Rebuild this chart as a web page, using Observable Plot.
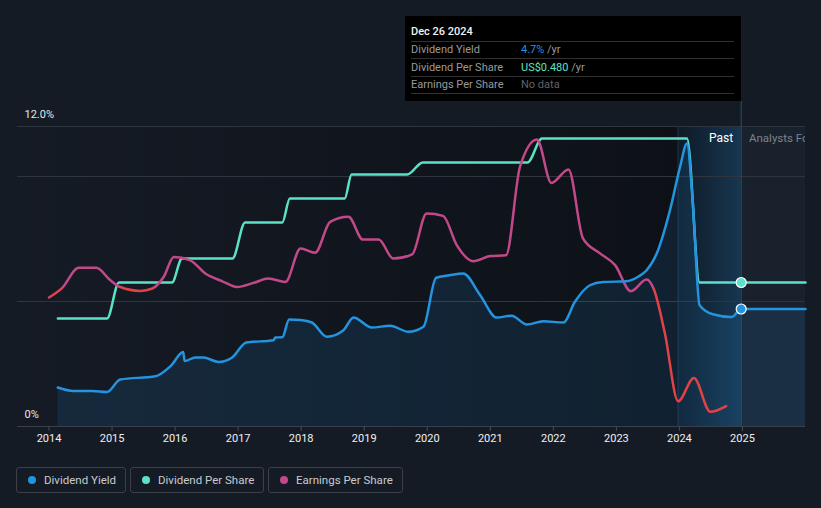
<!DOCTYPE html>
<html><head><meta charset="utf-8">
<script src="https://cdn.jsdelivr.net/npm/d3@7"></script>
<script src="https://cdn.jsdelivr.net/npm/@observablehq/plot@0.6"></script>
<style>
body{margin:0;background:#151b25;font-family:Roboto,"Noto Sans",sans-serif;}
#wrap{position:relative;width:821px;height:508px;background:#151b25;overflow:hidden;}
#chart{position:absolute;left:0;top:0;}
#tip{position:absolute;left:405px;top:16px;width:336px;height:85px;background:#000;}
#tip .r{position:absolute;left:6px;width:323px;border-bottom:1px solid #303030;font-size:11px;color:#9a9a9a;white-space:nowrap;}
#tip .r .v{position:absolute;left:110px;}
#tip .d{color:#f2f2f2;font-weight:500;}
#fc{position:absolute;left:749px;top:131px;width:56px;overflow:hidden;white-space:nowrap;font-size:11.5px;color:#7d838b;}
.lg{position:absolute;top:467px;height:24px;border:1px solid #3a3f48;border-radius:3px;box-sizing:content-box;font-size:11.5px;color:#c9cbd0;line-height:24px;white-space:nowrap;}
.lg i{position:absolute;left:11px;top:8px;width:8px;height:8px;border-radius:50%;}
.lg span{position:absolute;left:27px;}
</style></head><body>
<div id="wrap">
  <div id="chart"></div>
  <div id="tip">
    <div class="r d" style="top:6px;height:19px;line-height:19px;">Dec 26 2024</div>
    <div class="r" style="top:26px;height:16px;line-height:16px;">Dividend Yield<span class="v"><span style="color:#2394df">4.7%</span> /yr</span></div>
    <div class="r" style="top:43px;height:17px;line-height:17px;">Dividend Per Share<span class="v"><span style="color:#5ce1c9">US$0.480</span> /yr</span></div>
    <div class="r" style="top:61px;height:16px;line-height:16px;">Earnings Per Share<span class="v" style="color:#5f6368">No data</span></div>
  </div>
  <div id="fc">Analysts Forecasts</div>
  <div class="lg" style="left:16px;width:108px;"><i style="background:#2394df"></i><span>Dividend Yield</span></div>
  <div class="lg" style="left:130px;width:132px;"><i style="background:#5ce1c9"></i><span>Dividend Per Share</span></div>
  <div class="lg" style="left:268px;width:133px;"><i style="background:#c2488a"></i><span>Earnings Per Share</span></div>
</div>
<script>
// ---- data ----
const yieldYears = [2014.14, 2014.39, 2014.68, 2014.92, 2015.13, 2015.69, 2015.93, 2016.13, 2016.15, 2016.32, 2016.45, 2016.69, 2016.90, 2017.13, 2017.56, 2017.59, 2017.70, 2017.81, 2017.99, 2018.17, 2018.41, 2018.67, 2018.83, 2019.12, 2019.41, 2019.70, 2019.94, 2020.14, 2020.35, 2020.57, 2020.84, 2021.10, 2021.34, 2021.58, 2021.84, 2022.16, 2022.34, 2022.58, 2022.79, 2023.16, 2023.35, 2023.48, 2023.64, 2023.85, 2024.01, 2024.12, 2024.21, 2024.32, 2024.53, 2024.83, 2024.98, 2026.0];
const yieldValues = [1.56, 1.42, 1.42, 1.38, 1.88, 2.01, 2.42, 2.98, 2.62, 2.76, 2.76, 2.58, 2.75, 3.36, 3.45, 3.56, 3.57, 4.28, 4.26, 4.16, 3.59, 3.85, 4.36, 3.96, 4.03, 3.79, 3.99, 5.95, 6.05, 6.12, 5.25, 4.36, 4.43, 4.08, 4.21, 4.16, 4.98, 5.65, 5.78, 5.81, 6.0, 6.25, 6.92, 8.65, 10.38, 11.32, 9.05, 4.85, 4.49, 4.38, 4.7, 4.7];

const dpsYears = [2014.14, 2014.92, 2015.11, 2015.95, 2016.11, 2016.91, 2017.11, 2017.70, 2017.82, 2018.69, 2018.80, 2019.68, 2019.93, 2021.59, 2021.82, 2024.12, 2024.32, 2026.0];
const dpsValues = [0.36, 0.36, 0.48, 0.48, 0.56, 0.56, 0.68, 0.68, 0.76, 0.76, 0.84, 0.84, 0.88, 0.88, 0.96, 0.96, 0.48, 0.48];

const epsYears = [2014.00, 2014.21, 2014.47, 2014.75, 2014.97, 2015.13, 2015.45, 2015.64, 2015.82, 2015.98, 2016.24, 2016.48, 2016.75, 2016.98, 2017.25, 2017.48, 2017.75, 2017.99, 2018.22, 2018.46, 2018.75, 2018.98, 2019.23, 2019.46, 2019.76, 2019.99, 2020.25, 2020.47, 2020.73, 2021.00, 2021.25, 2021.47, 2021.74, 2021.97, 2022.24, 2022.47, 2022.74, 2022.98, 2023.23, 2023.48, 2023.59, 2023.77, 2023.98, 2024.23, 2024.49, 2024.74];
const epsValues = [0.43, 0.462, 0.529, 0.529, 0.488, 0.465, 0.452, 0.46, 0.499, 0.565, 0.554, 0.51, 0.484, 0.465, 0.479, 0.493, 0.482, 0.593, 0.579, 0.682, 0.699, 0.623, 0.623, 0.56, 0.574, 0.71, 0.702, 0.604, 0.551, 0.568, 0.571, 0.865, 0.957, 0.812, 0.857, 0.627, 0.577, 0.538, 0.451, 0.49, 0.46, 0.31, 0.084, 0.162, 0.049, 0.068];
const epsDeclineRanges = [[2014.0, 2014.21], [2015.13, 2015.66], [2023.59, 2026.0]];

const xTicks = [2014, 2015, 2016, 2017, 2018, 2019, 2020, 2021, 2022, 2023, 2024, 2025];
const yLabelTicks = [0, 12];
const yLabels = ["0%", "12.0%"];
const gridValues = [5, 10, 12];
const xDomain = [2013.5, 2026.0];
const yDomain = [0, 12];
const bandStart = 2023.98, nowYear = 2024.98;
const perShareFactor = 12; // per-share US$ -> shared axis units

// ---- build ----
const yieldData = yieldYears.map((x, i) => ({x, y: yieldValues[i]}));
const dpsData = dpsYears.map((x, i) => ({x, y: dpsValues[i] * perShareFactor}));
const epsData = epsYears.map((x, i) => ({x, y: epsValues[i] * perShareFactor}));
const nowDots = [
  {x: nowYear, y: dpsValues[dpsValues.length - 1] * perShareFactor, c: "#5ce1c9"},
  {x: nowYear, y: yieldValues[yieldValues.length - 1], c: "#2394df"}
];

const chart = Plot.plot({
  width: 821, height: 455,
  marginLeft: 17, marginRight: 16, marginTop: 126, marginBottom: 29,
  style: {background: "transparent", color: "#e6e6e6", fontFamily: "Roboto, sans-serif", fontSize: "11px", overflow: "visible"},
  x: {domain: xDomain, label: null},
  y: {domain: yDomain, label: null},
  marks: [
    Plot.rect([0], {x1: xDomain[0], x2: bandStart, y1: yDomain[0], y2: yDomain[1], fill: "url(#pastGrad)"}),
    Plot.rect([0], {x1: bandStart, x2: nowYear, y1: yDomain[0], y2: yDomain[1], fill: "url(#bandGrad)"}),
    Plot.rect([0], {x1: nowYear, x2: xDomain[1], y1: yDomain[0], y2: yDomain[1], fill: "#19212d"}),
    Plot.ruleY(gridValues, {stroke: "#2f353e", strokeWidth: 1}),
    Plot.ruleX([bandStart], {y1: yDomain[0], y2: yDomain[1], stroke: "#1b3246", strokeWidth: 1}),
    Plot.ruleX([nowYear], {y1: yDomain[0], y2: 13, stroke: "#22506f", strokeWidth: 1}),
    Plot.areaY(yieldData, {x: "x", y: "y", fill: "#2394df", fillOpacity: 0.13, curve: "monotone-x"}),
    Plot.ruleY([0], {stroke: "#3a4049", strokeWidth: 1.2}),
    Plot.line(dpsData, {x: "x", y: "y", stroke: "#5ce1c9", strokeWidth: 2.5, curve: "monotone-x"}),
    Plot.line(epsData, {x: "x", y: "y", stroke: "url(#epsGrad)", strokeWidth: 2.5, curve: "monotone-x"}),
    Plot.line(yieldData, {x: "x", y: "y", stroke: "#2394df", strokeWidth: 2.5, curve: "monotone-x"}),
    Plot.dot(nowDots, {x: "x", y: "y", r: 5, fill: "c", stroke: "#ffffff", strokeWidth: 1.2}),
    Plot.text(["Past"], {x: nowYear, y: yDomain[1], dx: -8, dy: 12, textAnchor: "end", fill: "#ffffff", fontSize: 12}),
    Plot.axisX({ticks: xTicks, tickFormat: d3.format("d"), tickSize: 5, tickPadding: 3, stroke: "#454b54", fill: "#f0f0f0", fontSize: 11, label: null}),
    Plot.axisY({ticks: yLabelTicks, tickFormat: (d) => yLabels[yLabelTicks.indexOf(d)], tickSize: 0, tickPadding: 0, textAnchor: "start", dx: 7, dy: -12, fill: "#e6e6e6", fontSize: 11, label: null})
  ]
});
document.getElementById("chart").appendChild(chart);

// gradients
const xs = chart.scale("x");
const svg = d3.select(chart);
const defs = svg.insert("defs", ":first-child");
const pg = defs.append("linearGradient").attr("id", "pastGrad").attr("x1", 0).attr("x2", 1).attr("y1", 0).attr("y2", 0);
pg.append("stop").attr("offset", 0).attr("stop-color", "#080a0e").attr("stop-opacity", 0);
pg.append("stop").attr("offset", 1).attr("stop-color", "#080a0e").attr("stop-opacity", 0.6);
const bg = defs.append("linearGradient").attr("id", "bandGrad").attr("x1", 0).attr("x2", 1).attr("y1", 0).attr("y2", 0);
bg.append("stop").attr("offset", 0).attr("stop-color", "#0f1a26");
bg.append("stop").attr("offset", 1).attr("stop-color", "#173651");
const eg = defs.append("linearGradient").attr("id", "epsGrad").attr("gradientUnits", "userSpaceOnUse")
  .attr("x1", xs.apply(xDomain[0])).attr("x2", xs.apply(xDomain[1])).attr("y1", 0).attr("y2", 0);
const span = xDomain[1] - xDomain[0];
const pink = "#c2488a", red = "#e04247";
epsDeclineRanges.forEach(([a, b]) => {
  const fa = (a - xDomain[0]) / span, fb = (b - xDomain[0]) / span;
  eg.append("stop").attr("offset", fa).attr("stop-color", pink);
  eg.append("stop").attr("offset", fa).attr("stop-color", red);
  eg.append("stop").attr("offset", fb).attr("stop-color", red);
  eg.append("stop").attr("offset", fb).attr("stop-color", pink);
});
</script>
</body></html>
